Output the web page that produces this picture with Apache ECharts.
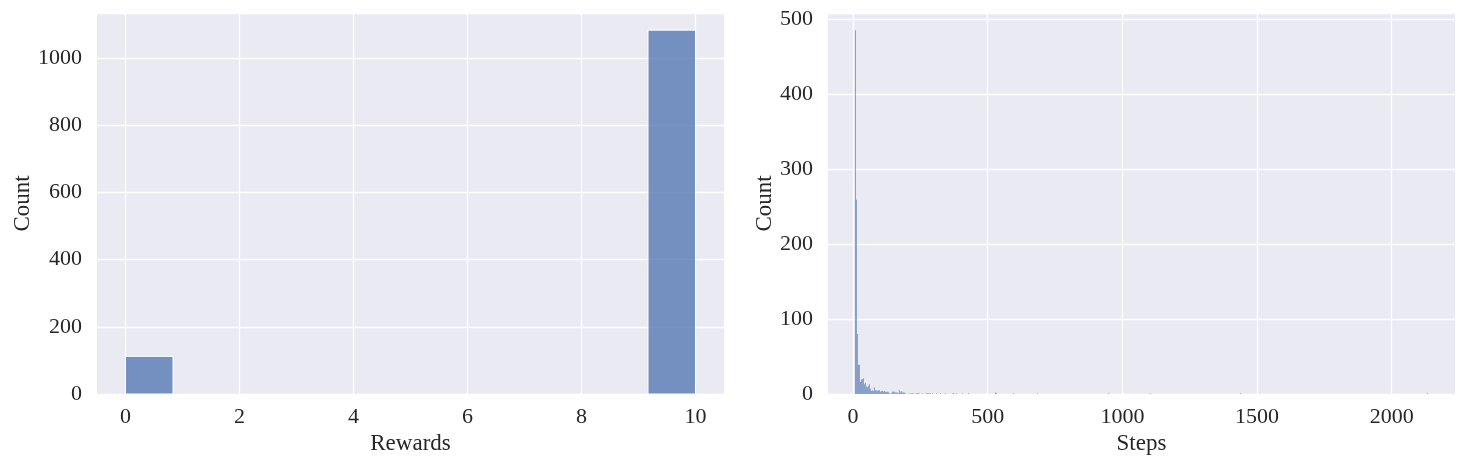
<!DOCTYPE html>
<html>
<head>
<meta charset="utf-8">
<script type="text/javascript" src="https://cdn.jsdelivr.net/npm/echarts@6/dist/echarts.min.js"></script>
<style>
  html, body { margin: 0; padding: 0; background: #fff; }
</style>
</head>
<body>
<div id="main" style="width: 1466px;height:466px;"></div>
<script type="text/javascript">
    // rewards histogram: 12 bins over [0, 10]
    var rewardBinStart = 0;
    var rewardBinWidth = 10 / 12;
    var rewardCounts = [112, 0, 0, 0, 0, 0, 0, 0, 0, 0, 0, 1083];
    var rewardTicks = [0, 2, 4, 6, 8, 10];

    // steps histogram: narrow bins at the start, then a sparse tail
    var stepBinStart = 7;
    var stepBinWidth = 3.7;
    var stepHeadCounts = [485, 259, 80, 39, 39, 16, 19, 20, 21, 13, 15, 10, 9, 11, 13, 7, 4, 5, 4, 9,
        5, 5, 4, 5, 5, 3, 4, 4, 3, 4, 3, 3, 3, 3, 1, 0, 1, 3, 3, 3,
        2, 2, 2, 1, 5, 2, 4, 2, 2, 2, 1, 0, 0, 0, 1, 0, 1, 1, 1, 0,
        0, 1, 1, 1, 1, 0, 0, 1, 0, 0, 0, 1, 1, 1, 1, 1, 0];
    // [step, count]
    var stepTail = [[293, 1], [308, 1], [323, 1], [341, 1], [367, 1], [371, 1], [382, 1], [405, 1],
        [427, 1], [527, 2], [531, 1], [594, 1], [683, 1], [947, 1], [1102, 1], [1437, 1], [2131, 1]];
    var stepTicks = [0, 500, 1000, 1500, 2000];

    var rewardData = [];
    for (var i = 0; i < rewardCounts.length; i++) {
        var a = rewardBinStart + i * rewardBinWidth;
        rewardData.push([a, a + rewardBinWidth, rewardCounts[i]]);
    }
    var stepData = [];
    for (var j = 0; j < stepHeadCounts.length; j++) {
        var b = stepBinStart + j * stepBinWidth;
        stepData.push([b, b + stepBinWidth, stepHeadCounts[j]]);
    }
    for (var k = 0; k < stepTail.length; k++) {
        stepData.push([stepTail[k][0], stepTail[k][0] + stepBinWidth, stepTail[k][1]]);
    }

    function histRender(fill, stroke, lw) {
        return function (params, api) {
            if (!api.value(2)) return null;
            var p0 = api.coord([api.value(0), api.value(2)]);
            var p1 = api.coord([api.value(1), 0]);
            return {
                type: 'rect',
                shape: {x: p0[0], y: p0[1], width: p1[0] - p0[0], height: p1[1] - p0[1]},
                style: {fill: fill, stroke: stroke, lineWidth: lw}
            };
        };
    }

    var font = '"Liberation Serif", "DejaVu Serif", serif';
    var txt = '#262626';
    var plain = function (v) { return String(v); };

    function xAx(idx, min, max, ticks, name) {
        return {
            gridIndex: idx, type: 'value', min: min, max: max,
            name: name, nameLocation: 'middle', nameGap: 36,
            nameTextStyle: {fontFamily: font, fontSize: 23, color: txt},
            axisLine: {show: false},
            axisTick: {show: false, customValues: ticks},
            axisLabel: {customValues: ticks, formatter: plain, fontFamily: font, fontSize: 22, color: txt, margin: 12},
            splitLine: {show: true, lineStyle: {color: '#fff', width: 1.3}}
        };
    }
    function yAx(idx, max, interval, gap) {
        return {
            gridIndex: idx, type: 'value', min: 0, max: max, interval: interval,
            name: 'Count', nameLocation: 'middle', nameGap: gap,
            nameTextStyle: {fontFamily: font, fontSize: 23, color: txt},
            axisLine: {show: false},
            axisTick: {show: false},
            axisLabel: {formatter: plain, fontFamily: font, fontSize: 22, color: txt, margin: 15,
                showMaxLabel: false},
            splitLine: {show: true, lineStyle: {color: '#fff', width: 1.3}}
        };
    }

    var myChart = echarts.init(document.getElementById('main'));
    var option = {
        animation: false,
        grid: [
            {left: 97, right: 742, top: 13, bottom: 72, show: true, backgroundColor: '#eaeaf2', borderWidth: 0},
            {left: 828, right: 11, top: 13, bottom: 72, show: true, backgroundColor: '#eaeaf2', borderWidth: 0}
        ],
        xAxis: [
            xAx(0, -0.5, 10.5, rewardTicks, 'Rewards'),
            xAx(1, -93, 2235, stepTicks, 'Steps')
        ],
        yAxis: [
            yAx(0, 1134, 200, 60),
            yAx(1, 508, 100, 52)
        ],
        series: [
            {
                type: 'custom', xAxisIndex: 0, yAxisIndex: 0,
                renderItem: histRender('rgba(76,114,176,0.75)', '#fff', 1),
                encode: {x: [0, 1], y: 2},
                data: rewardData
            },
            {
                type: 'custom', xAxisIndex: 1, yAxisIndex: 1,
                renderItem: histRender('rgba(76,114,176,0.65)', null, 0),
                encode: {x: [0, 1], y: 2},
                data: stepData
            }
        ]
    };
    myChart.setOption(option);
</script>
</body>
</html>
